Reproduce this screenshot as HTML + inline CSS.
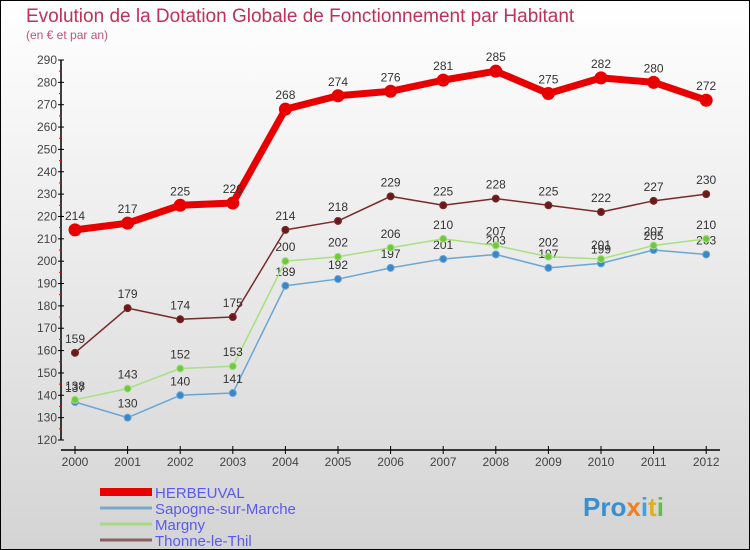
<!DOCTYPE html>
<html><head><meta charset="utf-8"><style>
body{margin:0;}
#c{position:relative;width:750px;height:550px;overflow:hidden;font-family:"Liberation Sans",sans-serif;}
</style></head><body>
<div id="c">
<svg id="s" width="750" height="550" xmlns="http://www.w3.org/2000/svg">
<defs><linearGradient id="bg" x1="0" y1="0" x2="0" y2="1"><stop offset="0" stop-color="#ffffff"/><stop offset="1" stop-color="#d4d4d4"/></linearGradient></defs>
<rect x="0.5" y="0.5" width="749" height="549" fill="url(#bg)" stroke="#000"/>
<text x="26" y="22" font-size="19" fill="#c0305a">Evolution de la Dotation Globale de Fonctionnement par Habitant</text>
<text x="26" y="39" font-size="12" fill="#c0507a">(en € et par an)</text>
<g id="axes"></g><g id="series"></g><g id="legend"></g>
<text x="583" y="516" font-size="26" font-weight="bold" fill="#3a8fd0">Pro<tspan fill="#f08020">x</tspan><tspan fill="#40a0e0">i</tspan><tspan fill="#e0b020">t</tspan><tspan fill="#60c040">i</tspan></text>
</svg></div>
<script>
const years=[2000,2001,2002,2003,2004,2005,2006,2007,2008,2009,2010,2011,2012];
const herbeuval=[214,217,225,226,268,274,276,281,285,275,282,280,272];
const sapogne=[137,130,140,141,189,192,197,201,203,197,199,205,203];
const margny=[138,143,152,153,200,202,206,210,207,202,201,207,210];
const thonne=[159,179,174,175,214,218,229,225,228,225,222,227,230];
const yTicks=[120,130,140,150,160,170,180,190,200,210,220,230,240,250,260,270,280,290];
const NS="http://www.w3.org/2000/svg";
const X=i=>75+i*52.6;
const Y=v=>440-(v-120)*(380/170);
function mk(t,a,p){const e=document.createElementNS(NS,t);for(const k in a)e.setAttribute(k,a[k]);p.appendChild(e);return e;}
const ax=document.getElementById('axes');
let l=mk('line',{x1:61,y1:60,x2:61,y2:440,stroke:'#000','stroke-width':1.5},ax);


l=mk('line',{x1:61,y1:450,x2:720,y2:450,stroke:'#000','stroke-width':1.5},ax);


yTicks.forEach(v=>{
 mk('line',{x1:58,y1:Y(v),x2:64,y2:Y(v),stroke:'#000'},ax);
 if(v<290)mk('line',{x1:59,y1:Y(v+5),x2:62,y2:Y(v+5),stroke:'#e00'},ax);
 const t=mk('text',{x:57,y:Y(v)+4,'font-size':12,fill:'#444','text-anchor':'end'},ax);
 t.textContent=v;
 
 
});
years.forEach((y,i)=>{
 mk('line',{x1:X(i),y1:446,x2:X(i),y2:454,stroke:'#000'},ax);
 const t=mk('text',{x:X(i),y:466,'font-size':12,fill:'#444','text-anchor':'middle'},ax);
 t.textContent=y;
 
 
});
const sg=document.getElementById('series');
function draw(data,color,w,r,dot,name){
 const g=mk('g',{},sg);
 
 
 const p=mk('polyline',{points:data.map((v,i)=>X(i)+','+Y(v)).join(' '),fill:'none',stroke:color,'stroke-width':w,'stroke-linejoin':'round'},g);
 
 
 data.forEach((v,i)=>{
  const c=mk('circle',{cx:X(i),cy:Y(v),r:r,fill:dot,stroke:color,'stroke-width':1},g);
  
  
  const t=mk('text',{x:X(i),y:Y(v)-10,'font-size':12,fill:'#333','text-anchor':'middle'},g);
  t.textContent=v;
  
  
 });
}
draw(sapogne,'#6aa6d6',1.5,3.5,'#3a86c6','sapogne');
draw(margny,'#a8e080',1.5,3.5,'#70c840','margny');
draw(thonne,'#7a2a2a',1.5,3.5,'#6a1a1a','thonne');
draw(herbeuval,'#e80000',7,6,'#e80000','herbeuval');
const lg=document.getElementById('legend');
[['HERBEUVAL','#e80000',8],['Sapogne-sur-Marche','#7aa8c8',3],['Margny','#a8d888',3],['Thonne-le-Thil','#8a6060',3]].forEach((d,i)=>{
 const y=492+i*16;
 const g=mk('g',{},lg);
 
 
 mk('line',{x1:100,y1:y,x2:152,y2:y,stroke:d[1],'stroke-width':d[2]},g);
 const t=mk('text',{x:155,y:y+6,'font-size':15,fill:'#5a5af0'},g);
 t.textContent=d[0];
});
</script>
</body></html>
